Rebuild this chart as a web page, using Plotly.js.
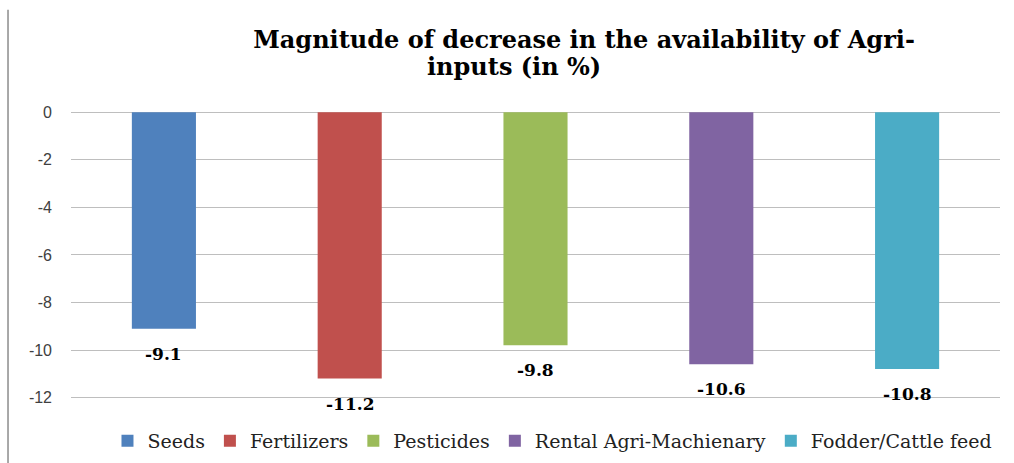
<!DOCTYPE html>
<html>
<head>
<meta charset="utf-8">
<script src="https://cdn.plot.ly/plotly-3.0.1.min.js"></script>
<style>html,body{margin:0;padding:0;background:#fff;}#chart{width:1014px;height:463px;}</style>
</head>
<body>
<div id="chart"></div>
<script>
const categories = ["Seeds", "Fertilizers", "Pesticides", "Rental Agri-Machienary", "Fodder/Cattle feed"];
const values = [-9.1, -11.2, -9.8, -10.6, -10.8];
const colors = ["#4F81BD", "#C0504D", "#9BBB59", "#8064A2", "#4BACC6"];
const yTicks = [0, -2, -4, -6, -8, -10, -12];

const traces = categories.map((c, i) => ({
  type: "bar",
  name: c,
  x: [c],
  y: [values[i]],
  marker: {color: colors[i]},
  width: 0.345,
  hoverinfo: "x+y"
}));

const labels = categories.map((c, i) => ({
  x: c, y: values[i], xref: "x", yref: "y",
  text: values[i].toFixed(1),
  showarrow: false, yanchor: "top", yshift: -13,
  font: {family: "DejaVu Serif", size: 17, color: "#000", weight: "bold"}
}));

labels.push({
  xref: "paper", yref: "paper", x: 0.477, y: 1.155,
  text: "<b>inputs (in %)</b>", showarrow: false,
  xanchor: "center", yanchor: "middle",
  font: {family: "DejaVu Serif", size: 24, color: "#000"}
});

const layout = {
  width: 1014, height: 463,
  margin: {l: 71, r: 14, t: 111, b: 63},
  paper_bgcolor: "#fff", plot_bgcolor: "#fff",
  title: {
    text: "<b>Magnitude of decrease in the availability of Agri-</b>",
    x: 0.576, xanchor: "center", xref: "container",
    y: 0.915, yanchor: "middle", yref: "container",
    font: {family: "DejaVu Serif", size: 24, color: "#000"}
  },
  barmode: "overlay",
  showlegend: true,
  legend: {
    orientation: "h", x: 0.106, xanchor: "left", xref: "container",
    y: 0.048, yanchor: "middle", yref: "container",
    font: {family: "DejaVu Serif", size: 19, color: "#222"},
    itemclick: false, tracegroupgap: 0
  },
  xaxis: {
    type: "category", categoryorder: "array", categoryarray: categories,
    showticklabels: false, showgrid: false, zeroline: false, showline: false,
    range: [-0.5, 4.5], fixedrange: true
  },
  yaxis: {
    range: [-12.1, 0.05], tickvals: yTicks, ticktext: yTicks.map(String),
    showgrid: true, gridcolor: "#BEBEBE", gridwidth: 1,
    zeroline: true, zerolinecolor: "#BEBEBE", zerolinewidth: 1,
    showline: false, ticks: "", ticklabelstandoff: 18,
    tickfont: {family: "Liberation Sans", size: 16, color: "#404040"},
    fixedrange: true
  },
  annotations: labels,
  shapes: [{
    type: "line", xref: "paper", yref: "paper",
    x0: -0.0678, x1: -0.0678, y0: 1.35, y1: -0.23,
    line: {color: "#8C8C8C", width: 1.5}
  }]
};

Plotly.newPlot("chart", traces, layout, {displayModeBar: false, staticPlot: true});
</script>
</body>
</html>
